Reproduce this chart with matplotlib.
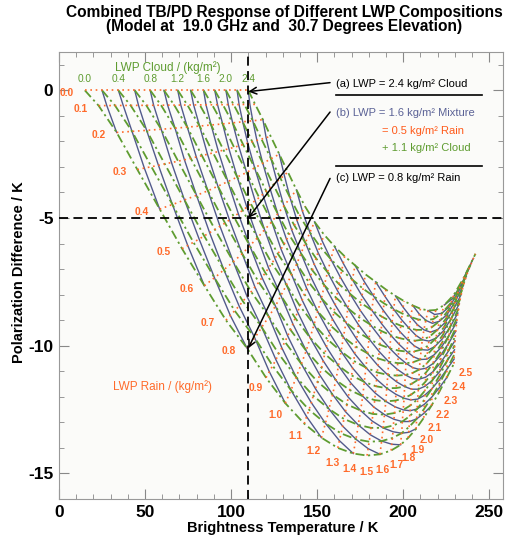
import numpy as np
import matplotlib
matplotlib.use('Agg')
import matplotlib.pyplot as plt
from matplotlib.ticker import MultipleLocator

plt.rcParams['font.family'] = ['Liberation Sans', 'DejaVu Sans']
plt.rcParams['axes.unicode_minus'] = False

# LWP grid (kg/m^2)
rain_lwp = np.round(np.arange(0, 2.51, 0.1), 1)    # 26 values
cloud_lwp = np.round(np.arange(0, 2.41, 0.1), 1)   # 25 values

# rain = 0 : cloud only (PD = 0)
tb_cloud_only = [15.0, 20.0, 25.0, 30.0, 34.5, 39.3, 44.0, 48.5, 53.0, 57.0, 61.0, 65.0, 69.0,
                 72.8, 76.5, 80.3, 84.0, 87.3, 90.5, 93.8, 97.0, 100.3, 103.5, 106.8, 110.0]
pd_cloud_only = [0.0] * 25

# cloud = 0 : rain only
tb_rain_only = [15.0, 23.0, 33.5, 45.5, 58.5, 71.5, 84.5, 97.0, 109.3, 120.3, 131.5, 142.5, 152.5,
                162.0, 171.0, 179.0, 186.5, 193.0, 198.5, 203.0, 207.5, 212.0, 216.5, 221.0, 225.3, 229.5]
pd_rain_only = [0.0, -0.6, -1.65, -3.1, -4.65, -6.2, -7.65, -9.0, -10.1, -11.25, -12.25, -13.05, -13.6,
                -14.0, -14.22, -14.3, -14.25, -14.1, -13.88, -13.6, -13.25, -12.82, -12.34, -11.8, -11.25, -10.7]

# cloud = 2.4 kg/m^2
tb_cloud24 = [110.0, 114.0, 118.5, 123.0, 128.0, 133.0, 138.0, 143.0, 148.5, 154.0, 160.0, 166.0, 172.0,
              178.0, 184.0, 190.0, 195.5, 200.5, 205.5, 210.0, 214.5, 219.0, 224.0, 229.5, 235.5, 242.0]
pd_cloud24 = [0.0, -0.55, -1.15, -1.8, -2.5, -3.2, -3.9, -4.55, -5.15, -5.65, -6.1, -6.5, -6.85,
              -7.2, -7.5, -7.8, -8.05, -8.25, -8.42, -8.55, -8.62, -8.6, -8.4, -8.0, -7.3, -6.4]

# rain = 2.5 kg/m^2
tb_rain25 = [229.5, 229.6, 229.7, 229.8, 229.9, 230.1, 230.3, 230.5, 230.8, 231.1, 231.4, 231.8, 232.2,
             232.6, 233.1, 233.7, 234.3, 235.0, 235.8, 236.7, 237.6, 238.6, 239.7, 240.8, 242.0]
pd_rain25 = [-10.7, -10.52, -10.34, -10.16, -9.98, -9.8, -9.62, -9.44, -9.26, -9.08, -8.9, -8.72, -8.54,
             -8.36, -8.18, -8.0, -7.82, -7.64, -7.46, -7.28, -7.1, -6.93, -6.76, -6.58, -6.4]

cloud_ticks = [0.0, 0.4, 0.8, 1.2, 1.6, 2.0, 2.4]

# fill the (cloud, rain) mesh from its four edges
def mesh(bottom, top, left, right):
    bottom, top = np.array(bottom), np.array(top)
    left, right = np.array(left), np.array(right)
    u = np.linspace(0, 1, len(bottom))[None, :]
    v = np.linspace(0, 1, len(left))[:, None]
    return ((1 - v) * bottom[None, :] + v * top[None, :]
            + (1 - u) * left[:, None] + u * right[:, None]
            - ((1 - u) * (1 - v) * bottom[0] + u * (1 - v) * bottom[-1]
               + (1 - u) * v * top[0] + u * v * top[-1]))

TB = mesh(tb_rain_only, tb_cloud24, tb_cloud_only, tb_rain25)
PD = mesh(pd_rain_only, pd_cloud24, pd_cloud_only, pd_rain25)

green = '#5e9c30'
orange = '#ff6a2a'
slate = '#525a8c'

fig = plt.figure(figsize=(5.05, 5.38), dpi=100)
ax = fig.add_axes([59 / 505, 1 - 499 / 538, 444 / 505, 447 / 538])
ax.set_facecolor('#fbfbf9')
ax.set_xlim(0, 258)
ax.set_ylim(-16, 1.5)

nc, nr = TB.shape
# constant total LWP (solid)
for s in range(2, nc + nr - 1, 2):
    ic = np.array([i for i in range(nc) if 0 <= s - i < nr])
    ir = s - ic
    order = np.argsort(ir)
    ax.plot(TB[ic[order], ir[order]], PD[ic[order], ir[order]], color=slate, lw=1.0, zorder=2)
# constant cloud (dash-dot)
for i in range(0, nc, 2):
    ax.plot(TB[i], PD[i], color=green, lw=1.3, ls=(0, (5, 2, 1.2, 2)), zorder=3)
# constant rain (dotted)
for j in range(nr):
    ax.plot(TB[:, j], PD[:, j], color=orange, lw=1.2, ls=(0, (1, 2.2)), zorder=4)

ax.axvline(110, color='black', lw=1.3, ls=(0, (5, 3)), zorder=5)
ax.axhline(-5, color='black', lw=1.3, ls=(0, (5, 3)), zorder=5)

# cloud labels along the top
for c in cloud_ticks:
    k = int(round(c * 10))
    ax.text(tb_cloud_only[k], 0.25, f'{c:.1f}', color=green, fontsize=7.3, ha='center', va='bottom')
ax.text(63.5, 0.9, 'LWP Cloud / (kg/m²)', color=green, fontsize=8.5, ha='center', va='center')

# rain labels along the rain-only curve
fig.canvas.draw()
pts = ax.transData.transform(np.column_stack([tb_rain_only, pd_rain_only]))
for j, r in enumerate(rain_lwp):
    if r <= 0.8:
        off = (-18, -3)
    else:
        t = pts[min(j + 1, nr - 1)] - pts[j - 1]
        n = np.array([t[1], -t[0]]) / np.hypot(*t)
        off = (n[0] * 13, n[1] * 13 - 3)
    ax.annotate(f'{r:.1f}', (tb_rain_only[j], pd_rain_only[j]), xytext=off, textcoords='offset pixels',
                color=orange, fontsize=7.4, fontweight='bold', ha='center', va='center', zorder=6)
ax.text(60, -11.6, 'LWP Rain / (kg/m²)', color=orange, fontsize=8.5, ha='center', va='center')

# annotations
arrow = dict(arrowstyle='->', color='black', lw=1.1, mutation_scale=12, shrinkA=0, shrinkB=0)
ax.annotate('', xy=(110, -0.05), xytext=(157.5, 0.3), arrowprops=arrow, zorder=7)
ax.annotate('', xy=(110, -5), xytext=(157.5, -0.85), arrowprops=arrow, zorder=7)
ax.annotate('', xy=(110, -10.1), xytext=(157.5, -3.45), arrowprops=arrow, zorder=7)
ax.text(161, 0.25, '(a) LWP = 2.4 kg/m² Cloud', fontsize=8, va='center')
ax.plot([161, 246], [-0.2, -0.2], color='black', lw=1.2)
ax.text(161, -0.9, '(b) LWP = 1.6 kg/m² Mixture', fontsize=8, va='center', color='#5b6296')
ax.text(187.5, -1.6, '= 0.5 kg/m² Rain', fontsize=8, va='center', color='#ff5a1a')
ax.text(187.5, -2.27, '+ 1.1 kg/m² Cloud', fontsize=8, va='center', color=green)
ax.plot([161, 246], [-2.97, -2.97], color='black', lw=1.2)
ax.text(161, -3.45, '(c) LWP = 0.8 kg/m² Rain', fontsize=8, va='center')

ax.xaxis.set_major_locator(MultipleLocator(50))
ax.xaxis.set_minor_locator(MultipleLocator(10))
ax.yaxis.set_major_locator(MultipleLocator(5))
ax.yaxis.set_minor_locator(MultipleLocator(1))
ax.tick_params(which='both', direction='in', top=True, right=True, color='#888888')
ax.tick_params(which='major', length=7, labelsize=12.5, pad=4)
ax.tick_params(which='minor', length=3.5)
for lab in ax.get_xticklabels() + ax.get_yticklabels():
    lab.set_fontweight('bold')
for sp in ax.spines.values():
    sp.set_color('#999999')

fig.text(284 / 505, 1 - 12 / 538, 'Combined TB/PD Response of Different LWP Compositions',
         fontsize=11.2, fontweight='bold', ha='center', va='center')
fig.text(284 / 505, 1 - 27 / 538, '(Model at  19.0 GHz and  30.7 Degrees Elevation)',
         fontsize=11.2, fontweight='bold', ha='center', va='center')
fig.text(283 / 505, 1 - 528 / 538, 'Brightness Temperature / K', fontsize=10.5, fontweight='bold',
         ha='center', va='center')
fig.text(19 / 505, 1 - 272 / 538, 'Polarization Difference / K', fontsize=10.5, fontweight='bold',
         ha='center', va='center', rotation=90)

fig.savefig('out.png', dpi=100, facecolor='white')
